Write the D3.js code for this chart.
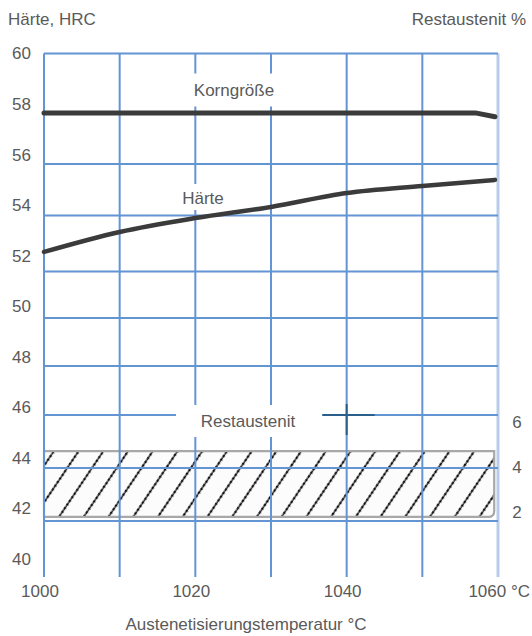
<!DOCTYPE html>
<html>
<head>
<meta charset="utf-8">
<script src="https://cdn.jsdelivr.net/npm/d3@7/dist/d3.min.js"></script>
<style>
  html, body { margin: 0; padding: 0; background: #fff; }
  svg text { font-family: "Liberation Sans", Arial, Helvetica, sans-serif; fill: #5a5a5a; }
</style>
</head>
<body>
<script>
// ---- data ----
const xTicks = [1000, 1020, 1040, 1060];
const xGrid = [1000, 1010, 1020, 1030, 1040, 1050, 1060];
const yTicks = [40, 42, 44, 46, 48, 50, 52, 54, 56, 58, 60];
const yGrid = [55.63, 53.59, 51.37, 49.54, 47.64, 45.70, 43.60, 41.50];
const pctTicks = [2, 4, 6];
const haerteT = [1000, 1010, 1020, 1030, 1040, 1050, 1059.6];
const haerteHRC = [52.15, 52.94, 53.49, 53.93, 54.48, 54.76, 55.0];
const kornT = [1000, 1057, 1059.6];
const kornHRC = [57.65, 57.65, 57.5];
const restT = [1000, 1059.5];
const restLow = 1.78, restHigh = 4.71;

// ---- layout ----
const W = 532, H = 636;
const svg = d3.select("body").append("svg").attr("width", W).attr("height", H);

const x = d3.scaleLinear().domain([1000, 1060]).range([44, 498]);
const y = d3.scaleLinear().domain([40, 60]).range([559, 53.5]);
const p = d3.scaleLinear().domain([0, 8]).range([557, 377]);

const gridColor = "#6394d4";

// hatch pattern
const defs = svg.append("defs");
const pat = defs.append("pattern").attr("id", "hatch")
  .attr("patternUnits", "userSpaceOnUse").attr("width", 20.5).attr("height", 4.4)
  .attr("patternTransform", "rotate(34)");
pat.append("line").attr("x1", 10).attr("y1", 0).attr("x2", 10).attr("y2", 4.4)
  .attr("stroke", "#3a3a3a").attr("stroke-width", 1.6);
pat.append("circle").attr("cx", 10).attr("cy", 2.2).attr("r", 1.15).attr("fill", "#000");

// Restaustenit band
const bx0 = x(restT[0]), bx1 = x(restT[1]), by0 = p(restHigh), by1 = p(restLow);
const r = 6;
const bandPath = `M${bx0},${by0}L${bx1},${by0}L${bx1},${by1 - r}Q${bx1},${by1} ${bx1 - r},${by1}L${bx0},${by1}Z`;
svg.append("path").attr("d", bandPath).attr("fill", "#fcfcfc");
svg.append("path").attr("d", bandPath).attr("fill", "url(#hatch)")
  .attr("stroke", "#a8a8a8").attr("stroke-width", 2.2);

// grid: vertical
const g = svg.append("g");
g.selectAll(".vg").data(xGrid).join("line")
  .attr("x1", d => x(d)).attr("x2", d => x(d))
  .attr("y1", y(60)).attr("y2", y(40) + 18)
  .attr("stroke", (d, i) => i === xGrid.length - 1 ? "#b7cdea" : gridColor)
  .attr("stroke-width", (d, i) => i === xGrid.length - 1 ? 3 : 2);
// top border
g.append("line").attr("x1", x(1000)).attr("x2", x(1060)).attr("y1", y(60)).attr("y2", y(60))
  .attr("stroke", gridColor).attr("stroke-width", 2);
// horizontal
g.selectAll(".hg").data(yGrid).join("line")
  .attr("x1", x(1000)).attr("x2", x(1060))
  .attr("y1", d => y(d)).attr("y2", d => y(d))
  .attr("stroke", gridColor).attr("stroke-width", 2);

// white masks behind labels
const masks = [
  { cx: 236, cy: 90, w: 106, h: 33 },
  { cx: 203, cy: 197, w: 52, h: 26 },
  { cx: 249, cy: 421, w: 146, h: 32 }
];
svg.selectAll(".mask").data(masks).join("rect")
  .attr("x", d => d.cx - d.w / 2).attr("y", d => d.cy - d.h / 2)
  .attr("width", d => d.w).attr("height", d => d.h).attr("fill", "#fff");

// crosshair marker at 1040 / Restaustenit gridline
const chx = x(1040), chy = y(45.70);
svg.append("line").attr("x1", chx - 24).attr("x2", chx + 28).attr("y1", chy).attr("y2", chy)
  .attr("stroke", "#2a5f8c").attr("stroke-width", 2);
svg.append("line").attr("x1", chx).attr("x2", chx).attr("y1", chy - 11).attr("y2", chy + 20)
  .attr("stroke", "#2a5f8c").attr("stroke-width", 2);

// lines
const line = d3.line().x(d => x(d[0])).y(d => y(d[1])).curve(d3.curveMonotoneX);
svg.append("path").datum(kornT.map((t, i) => [t, kornHRC[i]]))
  .attr("d", d3.line().x(d => x(d[0])).y(d => y(d[1])))
  .attr("fill", "none").attr("stroke", "#3b3b3b").attr("stroke-width", 5)
  .attr("stroke-linecap", "round").attr("stroke-linejoin", "round");
svg.append("path").datum(haerteT.map((t, i) => [t, haerteHRC[i]]))
  .attr("d", line)
  .attr("fill", "none").attr("stroke", "#3b3b3b").attr("stroke-width", 4.5)
  .attr("stroke-linecap", "round");

// texts
const fs = 17;
svg.append("text").attr("x", 8).attr("y", 25).attr("font-size", fs).text("Härte, HRC");
svg.append("text").attr("x", 526).attr("y", 25).attr("font-size", fs).attr("text-anchor", "end").text("Restaustenit %");

svg.selectAll(".yt").data(yTicks).join("text")
  .attr("x", 31).attr("y", d => y(d)).attr("dy", "0.35em")
  .attr("text-anchor", "end").attr("font-size", fs).text(d => d);

svg.selectAll(".pt").data(pctTicks).join("text")
  .attr("x", 517).attr("y", d => p(d)).attr("dy", "0.35em")
  .attr("text-anchor", "middle").attr("font-size", fs).text(d => d);

svg.selectAll(".xt").data(xTicks).join("text")
  .attr("x", (d, i) => i === xTicks.length - 1 ? 530 : x(d) - 4)
  .attr("y", 597)
  .attr("text-anchor", (d, i) => i === xTicks.length - 1 ? "end" : "middle")
  .attr("font-size", fs)
  .text((d, i) => i === xTicks.length - 1 ? d + " °C" : d);

svg.append("text").attr("x", 246).attr("y", 630).attr("text-anchor", "middle")
  .attr("font-size", fs).text("Austenetisierungstemperatur °C");

svg.append("text").attr("x", 234).attr("y", 96).attr("text-anchor", "middle").attr("font-size", fs).text("Korngröße");
svg.append("text").attr("x", 203).attr("y", 204).attr("text-anchor", "middle").attr("font-size", fs).text("Härte");
svg.append("text").attr("x", 248).attr("y", 427).attr("text-anchor", "middle").attr("font-size", fs).text("Restaustenit");
</script>
</body>
</html>
